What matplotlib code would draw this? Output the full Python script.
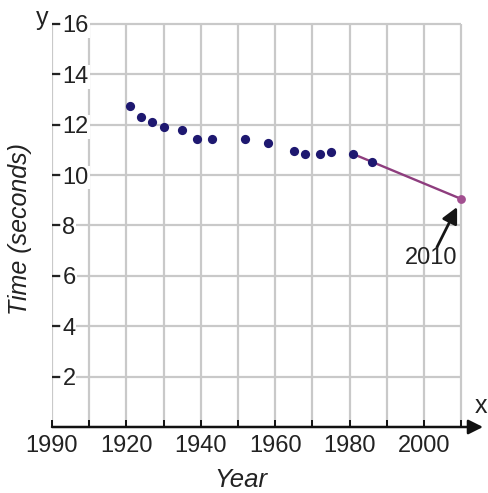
import matplotlib
matplotlib.use("Agg")
import matplotlib.pyplot as plt

plt.rcParams['font.family'] = ['Liberation Sans', 'DejaVu Sans']

# data
years = [1921, 1924, 1927, 1930, 1935, 1939, 1943, 1952, 1958,
         1965, 1968, 1972, 1975, 1981, 1986]
times = [12.74, 12.31, 12.10, 11.90, 11.77, 11.42, 11.42, 11.42, 11.28,
         10.96, 10.83, 10.82, 10.93, 10.83, 10.52]
pred_year = 2010
pred_time = 9.05
line_start = 13  # trend line starts at the 1981 point

x_ticks = list(range(1900, 2011, 10))
x_labels = ['1990', '', '1920', '', '1940', '', '1960', '', '1980', '', '2000', '']
y_ticks = [2, 4, 6, 8, 10, 12, 14, 16]

W, H = 488, 493
fig = plt.figure(figsize=(W / 100, H / 100), dpi=100)
# axes: 1900 at px 52, y=0 at px 427; 3.72 px/yr, 25.2 px/sec
ax = fig.add_axes([52 / W, 66 / H, 431 / W, 413 / H])
ax.set_xlim(1900, 1900 + 431 / 3.72)
ax.set_ylim(0, 413 / 25.2)

grid_c = '#c9c9c9'
ax.vlines(x_ticks, 0, 16, color=grid_c, lw=1.6, zorder=1)
ax.hlines(y_ticks, 1900, 2010, color=grid_c, lw=1.6, zorder=1)

for s in ax.spines.values():
    s.set_visible(False)

# x axis with arrow
ax.annotate('', xy=(1, 0), xycoords='axes fraction', xytext=(0, 0),
            arrowprops=dict(arrowstyle='-|>', color='#111111', lw=1.8,
                            mutation_scale=22, shrinkA=0, shrinkB=0))

ax.set_xticks(x_ticks)
ax.set_xticklabels(x_labels)
ax.tick_params(axis='x', direction='in', length=5, width=1.4, color='#111111',
               labelsize=17, labelcolor='#222222', pad=6)

ax.set_yticks(y_ticks)
ax.set_yticklabels([str(v) for v in y_ticks])
ax.tick_params(axis='y', direction='in', length=6, width=1.6, color='#222222',
               labelsize=17, labelcolor='#222222', pad=-7.5)
for lab in ax.get_yticklabels():
    lab.set_horizontalalignment('left')
    lab.set_bbox(dict(facecolor='white', edgecolor='none', pad=0.6))

# trend line to 2010
ax.plot([years[line_start], pred_year], [times[line_start], pred_time],
        color='#8e3d7e', lw=1.7, zorder=2)
ax.scatter(years, times, s=44, color='#1e1870', zorder=3, linewidths=0)
ax.scatter([pred_year], [pred_time], s=40, color='#a24f90', zorder=3, linewidths=0)

ax.annotate('', xy=(2008.9, 8.73), xytext=(2003.5, 7.14),
            arrowprops=dict(arrowstyle='-|>', color='#151515', lw=2.0,
                            mutation_scale=24, shrinkA=0, shrinkB=0))
ax.text(2002.0, 6.71, '2010', ha='center', va='center', fontsize=17, color='#222222')

fig.text(241 / W, 1 - 480 / H, 'Year', style='italic', fontsize=18.5,
         ha='center', va='center', color='#222222')
fig.text(20 / W, 1 - 229 / H, 'Time (seconds)', style='italic', fontsize=18,
         rotation=90, ha='center', va='center', color='#222222')
fig.text(48 / W, 1 - 25 / H, 'y', fontsize=18, ha='right', va='baseline', color='#222222')
fig.text(475 / W, 1 - 413 / H, 'x', fontsize=18, ha='left', va='baseline', color='#222222')

fig.savefig('out.png', dpi=100, facecolor='white')
